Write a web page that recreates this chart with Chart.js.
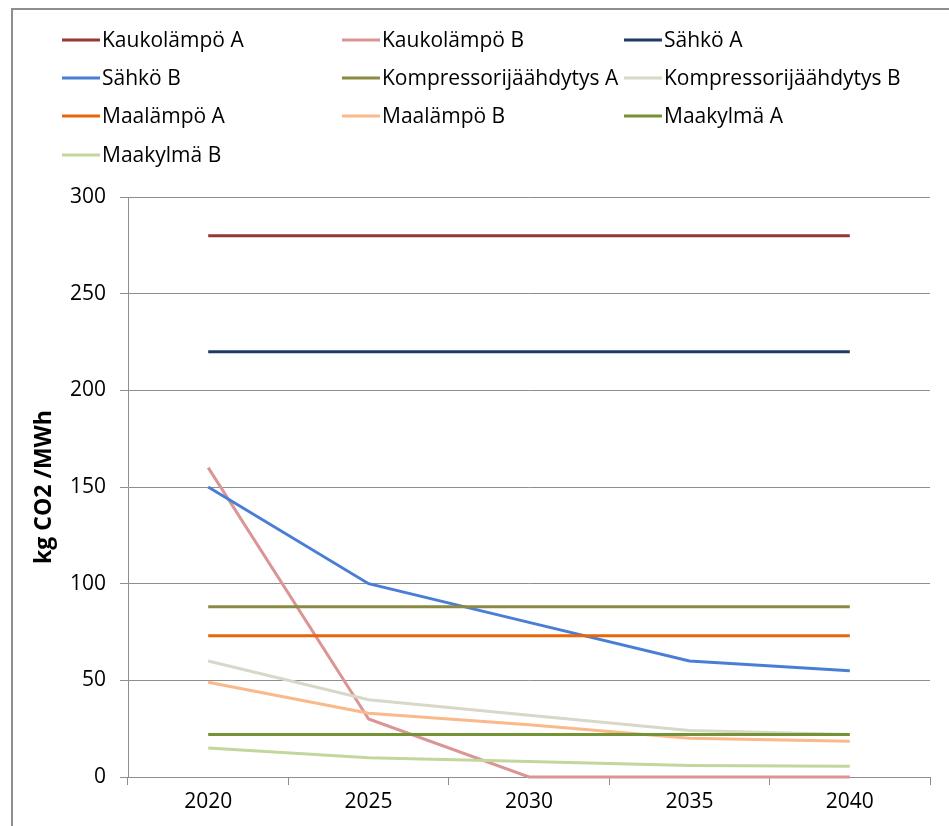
<!DOCTYPE html>
<html>
<head>
<meta charset="utf-8">
<script src="https://cdn.jsdelivr.net/npm/chart.js@4.4.1/dist/chart.umd.min.js"></script>
<style>
    html, body { margin: 0; padding: 0; background: #fff; }
    #wrap { position: relative; width: 949px; height: 826px; }
    #frame { position: absolute; left: 11px; top: 8px; right: 0; bottom: 0; border-left: 2px solid #8e8e8e; border-top: 2px solid #8e8e8e; pointer-events: none; }
</style>
</head>
<body>
<div id="wrap">
    <canvas id="myChart" width="949" height="826"></canvas>
    <div id="frame"></div>
</div>
<script>
const years = ['2020', '2025', '2030', '2035', '2040'];

const kaukolampoA = [280, 280, 280, 280, 280];
const kaukolampoB = [160, 30, 0, 0, 0];
const sahkoA = [220, 220, 220, 220, 220];
const sahkoB = [150, 100, 80, 60, 55];
const kompressoriA = [88, 88, 88, 88, 88];
const kompressoriB = [60, 40, 32, 24, 22];
const maalampoA = [73, 73, 73, 73, 73];
const maalampoB = [49, 33, 27, 20, 18.5];
const maakylmaA = [22, 22, 22, 22, 22];
const maakylmaB = [15, 10, 8, 6, 5.5];

const yTicks = [0, 50, 100, 150, 200, 250, 300];

const series = [
    { label: 'Kaukolämpö A', data: kaukolampoA, color: '#953735' },
    { label: 'Kaukolämpö B', data: kaukolampoB, color: '#d99694' },
    { label: 'Sähkö A', data: sahkoA, color: '#1f3864' },
    { label: 'Sähkö B', data: sahkoB, color: '#4a7ed6' },
    { label: 'Kompressorijäähdytys A', data: kompressoriA, color: '#8a8a44' },
    { label: 'Kompressorijäähdytys B', data: kompressoriB, color: '#d9d7c8' },
    { label: 'Maalämpö A', data: maalampoA, color: '#e8650a' },
    { label: 'Maalämpö B', data: maalampoB, color: '#f9b98a' },
    { label: 'Maakylmä A', data: maakylmaA, color: '#749236' },
    { label: 'Maakylmä B', data: maakylmaB, color: '#c3d69b' }
];

const fontFamily = "'Open Sans', sans-serif";

// legend drawn in three fixed columns
const gridLegend = {
    id: 'gridLegend',
    afterDraw(chart) {
        const ctx = chart.ctx;
        const colX = [62, 342, 624];
        const rowY = [40, 78, 116, 155];
        ctx.save();
        ctx.font = '21px ' + fontFamily;
        ctx.textBaseline = 'middle';
        ctx.fillStyle = '#000';
        chart.data.datasets.forEach((ds, i) => {
            const x = colX[i % 3];
            const y = rowY[Math.floor(i / 3)];
            ctx.strokeStyle = ds.borderColor;
            ctx.lineWidth = 3;
            ctx.beginPath();
            ctx.moveTo(x, y);
            ctx.lineTo(x + 38, y);
            ctx.stroke();
            ctx.fillText(ds.label, x + 40, y + 1);
        });
        ctx.restore();
    }
};

const ctx = document.getElementById('myChart').getContext('2d');
const myChart = new Chart(ctx, {
    type: 'line',
    data: {
        labels: years,
        datasets: series.map((s, i) => ({
            label: s.label,
            data: s.data,
            borderColor: s.color,
            backgroundColor: s.color,
            borderWidth: 3,
            pointRadius: 0,
            tension: 0,
            clip: 6,
            order: series.length - i
        }))
    },
    options: {
        responsive: false,
        animation: false,
        layout: {
            padding: { top: 197, right: 19, left: 0, bottom: 0 }
        },
        scales: {
            x: {
                offset: true,
                afterFit: function(scale) { scale.height = 49; },
                ticks: {
                    color: '#000',
                    font: { family: fontFamily, size: 21 },
                    padding: 4
                },
                grid: {
                    offset: true,
                    drawOnChartArea: false,
                    tickLength: 8,
                    color: '#8e8e8e'
                },
                border: { color: '#8e8e8e', width: 1 }
            },
            y: {
                min: 0,
                max: 300,
                afterFit: function(scale) { scale.width = 128; },
                afterBuildTicks: function(scale) {
                    scale.ticks = yTicks.map(v => ({ value: v }));
                },
                ticks: {
                    color: '#000',
                    font: { family: fontFamily, size: 21 },
                    padding: 14
                },
                grid: {
                    tickLength: 8,
                    color: '#8e8e8e'
                },
                border: { color: '#8e8e8e', width: 1 },
                title: {
                    display: true,
                    text: 'kg CO2 /MWh',
                    color: '#000',
                    font: { family: fontFamily, size: 23, weight: 'bold' },
                    padding: { top: 31, bottom: 0 }
                }
            }
        },
        plugins: {
            legend: { display: false },
            tooltip: { enabled: false }
        }
    },
    plugins: [gridLegend]
});
</script>
</body>
</html>
